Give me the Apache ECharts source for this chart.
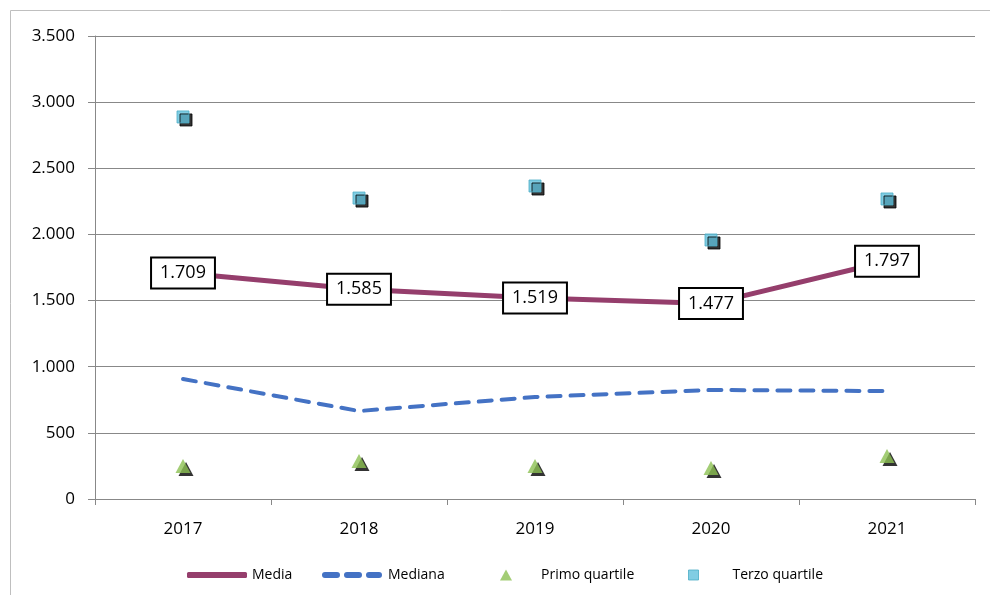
<!DOCTYPE html>
<html><head><meta charset="utf-8">
<script src="https://cdn.jsdelivr.net/npm/echarts@6/dist/echarts.min.js"></script>
<style>html,body{margin:0;padding:0;background:#fff}#c{width:990px;height:595px}</style>
</head><body><div id="c"></div>
<script>
const categories = ['2017','2018','2019','2020','2021'];
const media = [1709, 1585, 1519, 1477, 1797];
const mediana = [907, 665, 771, 824, 816];
const primoQuartile = [250, 287, 250, 234, 325];
const terzoQuartile = [2888, 2275, 2366, 1958, 2268];
const yTicks = [0, 500, 1000, 1500, 2000, 2500, 3000, 3500];

const fmt = v => String(Math.round(v)).replace(/\B(?=(\d{3})+(?!\d))/g, '.');
const FONT = '"Open Sans", "Noto Sans", sans-serif';
const chart = echarts.init(document.getElementById('c'));
const shadow = {shadowColor:'#000', shadowBlur:0, shadowOffsetX:3, shadowOffsetY:3};
const dashIcon = 'path://M3,0 h12 a3,3 0 0 1 0,6 h-12 a3,3 0 0 1 0,-6z M25,0 h12 a3,3 0 0 1 0,6 h-12 a3,3 0 0 1 0,-6z M47,0 h10 a3,3 0 0 1 0,6 h-10 a3,3 0 0 1 0,-6z';
chart.setOption({
  animation:false,
  graphic:[{type:'rect', shape:{x:10.5,y:10.5,width:990,height:600}, style:{fill:'none', stroke:'#bfbfbf', lineWidth:1}, silent:true}],
  grid:{left:95, right:15, top:36, bottom:96},
  xAxis:{type:'category', data:categories, boundaryGap:true,
    axisLine:{lineStyle:{color:'#888', width:1}},
    axisTick:{show:true, alignWithLabel:false, length:6, lineStyle:{color:'#888'}},
    axisLabel:{color:'#000', fontSize:17, fontFamily:FONT, margin:22},
    splitLine:{show:false}},
  yAxis:{type:'value', min:yTicks[0], max:yTicks[yTicks.length-1], interval:500,
    axisLine:{show:true, lineStyle:{color:'#888'}},
    axisTick:{show:true, length:7, lineStyle:{color:'#888'}},
    axisLabel:{color:'#000', fontSize:17, fontFamily:FONT, margin:20, formatter:fmt},
    splitLine:{lineStyle:{color:'#888', width:1}}},
  legend:[
    {data:[{name:'Media', icon:'roundRect', itemStyle:{color:'#953e6c'}}], left:182, top:563, itemWidth:60, itemHeight:6,
     textStyle:{fontSize:14, fontFamily:FONT, color:'#000'}},
    {data:[{name:'Mediana', icon:dashIcon, itemStyle:{color:'#4472c4'}}], left:317, top:563, itemWidth:62, itemHeight:6,
     textStyle:{fontSize:14, fontFamily:FONT, color:'#000'}},
    {data:[{name:'Primo quartile', icon:'triangle', itemStyle:{color:'#8cc152', shadowBlur:0, shadowOffsetX:0, shadowOffsetY:0}}], left:495, top:563, itemWidth:12, itemHeight:11,
     textStyle:{fontSize:14, fontFamily:FONT, color:'#000', padding:[0,0,0,24]}},
    {data:[{name:'Terzo quartile', icon:'rect', itemStyle:{color:'#62c1dc', borderColor:'#4bacc6', borderWidth:1, shadowBlur:0, shadowOffsetX:0, shadowOffsetY:0}}], left:683, top:563, itemWidth:10, itemHeight:10,
     textStyle:{fontSize:14, fontFamily:FONT, color:'#000', padding:[0,0,0,29]}}
  ],
  series:[
    {name:'Media', type:'line', data:media, symbol:'circle', symbolSize:1, showSymbol:true,
     lineStyle:{color:'#953e6c', width:5}, itemStyle:{color:'rgba(0,0,0,0)'},
     label:{show:true, position:'inside', formatter:p=>fmt(p.value),
       fontSize:18, fontFamily:FONT, color:'#000', backgroundColor:'#fff', borderColor:'#000', borderWidth:2,
       padding:[6,8,5,8]}, z:3},
    {name:'Mediana', type:'line', data:mediana, symbol:'none', showSymbol:false,
     lineStyle:{color:'#4472c4', width:4, type:[13,10], cap:'round'}, itemStyle:{color:'#4472c4'}, z:2},
    {name:'Primo quartile', type:'scatter', data:primoQuartile, symbol:'triangle', symbolSize:[15,14],
     itemStyle:Object.assign({color:'#8cc152'}, shadow), z:4},
    {name:'Terzo quartile', type:'scatter', data:terzoQuartile, symbol:'rect', symbolSize:12,
     itemStyle:Object.assign({color:'#62c1dc', borderColor:'#4bacc6', borderWidth:1}, shadow), z:4}
  ]
});
</script></body></html>
